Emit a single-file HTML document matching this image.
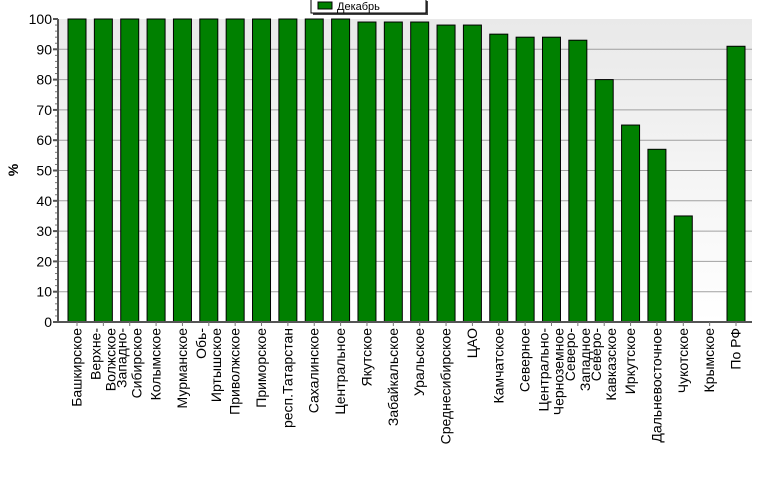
<!DOCTYPE html>
<html><head><meta charset="utf-8"><style>
body{margin:0;background:#fff;}
svg{display:block;font-family:"Liberation Sans",sans-serif;}
</style></head><body>
<svg id="c" width="777" height="479">
<defs><linearGradient id="bg" x1="0" y1="0" x2="0" y2="1"><stop offset="0" stop-color="#e9e9e9"/><stop offset="1" stop-color="#ffffff"/></linearGradient></defs>
<rect x="58" y="19" width="694" height="303" fill="url(#bg)"/>
<g id="grid"></g><g id="bars"></g><g id="axes"></g><g id="labels"></g>
<text x="18" y="170" font-size="14" font-weight="bold" transform="rotate(-90 18 170)" text-anchor="middle">%</text>
<g>
<rect x="313" y="1" width="115" height="14" fill="#444"/>
<rect x="311" y="-1" width="115" height="14" fill="#fff" stroke="#000"/>
<rect x="318" y="2" width="14" height="7" fill="#008000" stroke="#000"/>
<text x="337" y="10" font-size="11">Декабрь</text>
</g>
</svg>
<script>
const categories=[["Башкирское"],["Верхне-","Волжское"],["Западно-","Сибирское"],["Колымское"],["Мурманское"],["Обь-","Иртышское"],["Приволжское"],["Приморское"],["респ.Татарстан"],["Сахалинское"],["Центральное"],["Якутское"],["Забайкальское"],["Уральское"],["Среднесибирское"],["ЦАО"],["Камчатское"],["Северное"],["Центрально-","Черноземное"],["Северо-","Западное"],["Северо-","Кавказское"],["Иркутское"],["Дальневосточное"],["Чукотское"],["Крымское"],["По РФ"]];
const values=[100,100,100,100,100,100,100,100,100,100,100,99,99,99,98,98,95,94,94,93,80,65,57,35,0,91];
const yTicks=[0,10,20,30,40,50,60,70,80,90,100];
const NS="http://www.w3.org/2000/svg";
const X0=58,X1=752,Y0=322,Y1=19;
function y(v){return Y0-(v/100)*(Y0-Y1);}
function xc(i){return 77+i*(684/26)*1.002;}
function mk(tag,attrs,parent){const e=document.createElementNS(NS,tag);for(const k in attrs)e.setAttribute(k,attrs[k]);document.getElementById(parent).appendChild(e);return e;}
yTicks.forEach(t=>{
 if(t>0&&t<100){const g=mk('line',{x1:X0,x2:X1,y1:y(t),y2:y(t),stroke:'#a0a0a0','stroke-width':1},'grid');
 
 }
 const tk=mk('line',{x1:X0-5,x2:X0,y1:y(t),y2:y(t),stroke:'#555','stroke-width':2},'axes');
 
 
 const tl=mk('text',{x:X0-6,y:y(t)+5,'font-size':14,'text-anchor':'end'},'axes');tl.textContent=t;
 
 
 if(t<100){for(let m=1;m<5;m++){const mt=mk('line',{x1:X0-3,x2:X0,y1:y(t+m*2),y2:y(t+m*2),stroke:'#777'},'axes');
 
 }}
});
const bw=18;
values.forEach((v,i)=>{
 const b=mk('rect',{x:xc(i)-bw/2,y:y(v),width:bw,height:Y0-y(v),fill:'#008000',stroke:'#000','stroke-width':1},'bars');
 
 
});
mk('line',{x1:X0,x2:X0,y1:Y1,y2:Y0+1,stroke:'#555','stroke-width':2},'axes');
mk('line',{x1:X0,x2:X1,y1:Y0,y2:Y0,stroke:'#555','stroke-width':2},'axes');
categories.forEach((lines,i)=>{
 const cx=xc(i);
 const tk=mk('line',{x1:cx,x2:cx,y1:Y0,y2:Y0+4,stroke:'#777'},'axes');
 
 
 lines.forEach((s,j)=>{
  const lx=cx+5+(j-(lines.length-1)/2)*15-0.5;
  const ly=Y0+6;
  const t=mk('text',{x:lx,y:ly,'font-size':14,'text-anchor':'end',transform:`rotate(-90 ${lx} ${ly})`},'labels');
  t.textContent=s;
  
  
 });
});
</script>
</body></html>
